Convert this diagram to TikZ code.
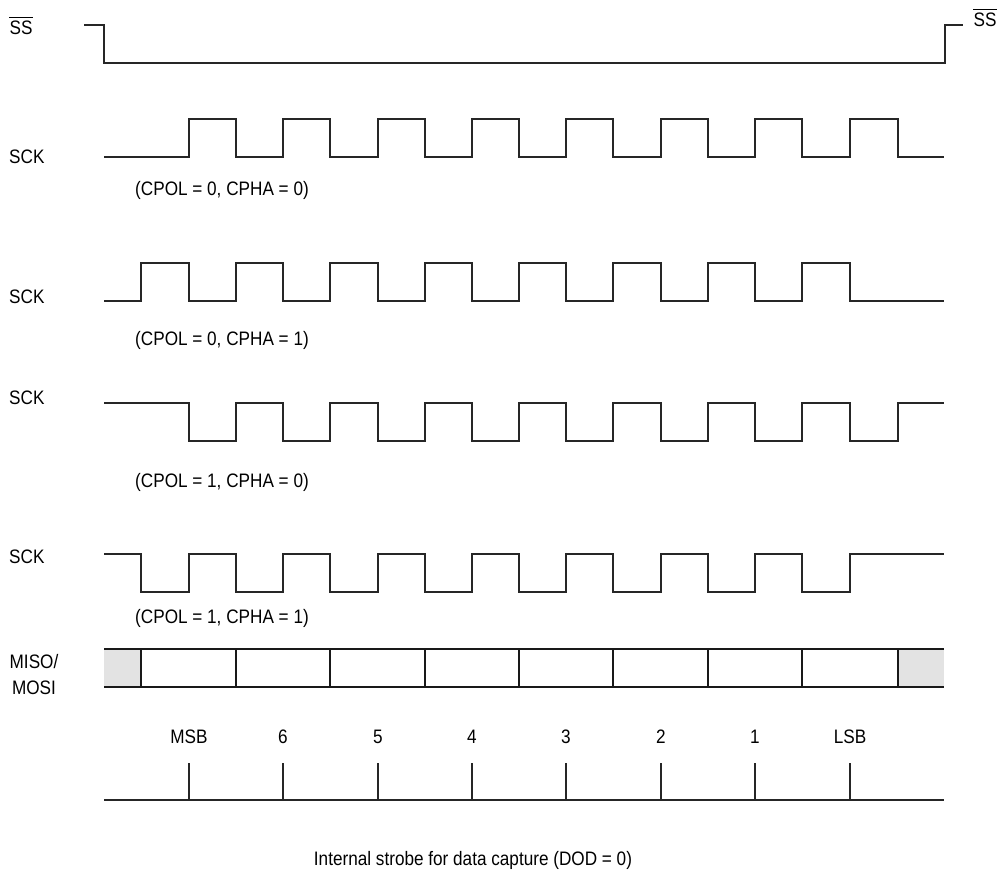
\documentclass[tikz,border=0pt]{standalone}
\usepackage{fontspec}
\setmainfont{Liberation Sans}[FakeStretch=0.88]
\begin{document}
\begin{tikzpicture}[x=1pt,y=-1pt,
  wave/.style={line width=1.1pt,black!85},
  lbl/.style={inner sep=0pt,font=\fontsize{19.5}{22}\selectfont},
  slot/.style={line width=1.1pt,black!90},
  shade/.style={fill=black!11,draw=none},
  bar/.style={line width=0.9pt,black}]
\useasboundingbox (0,0) rectangle (1001,871);
% SS
\node[lbl] (ssl) at (21,28) {SS};
\draw[bar] ([yshift=3pt]ssl.north west) -- ([yshift=3pt]ssl.north east);
\node[lbl] (ssr) at (985,20) {SS};
\draw[bar] ([yshift=3pt]ssr.north west) -- ([yshift=3pt]ssr.north east);
\draw[wave] (84,25) -- (104,25) -- (104,63) -- (945,63) -- (945,25) -- (963,25);
% SCK 1
\node[lbl,anchor=west] (sck1) at (9,157) {SCK};
\draw[wave] (104,157) foreach \r/\f in {189/236,283/330,378/425,472/519,566/613,661/708,755/802,850/898}
  { -- (\r,157) -- (\r,119) -- (\f,119) -- (\f,157) } -- (944,157);
\node[lbl] (c1) at (222,190) {(CPOL = 0, CPHA = 0)};
% SCK 2
\node[lbl,anchor=west] (sck2) at (9,297) {SCK};
\draw[wave] (104,301) foreach \r/\f in {141/189,236/283,330/378,425/472,519/566,613/661,708/755,802/850}
  { -- (\r,301) -- (\r,263) -- (\f,263) -- (\f,301) } -- (944,301);
\node[lbl] (c2) at (222,340) {(CPOL = 0, CPHA = 1)};
% SCK 3
\node[lbl,anchor=west] (sck3) at (9,398) {SCK};
\draw[wave] (104,403) foreach \r/\f in {189/236,283/330,378/425,472/519,566/613,661/708,755/802,850/898}
  { -- (\r,403) -- (\r,441) -- (\f,441) -- (\f,403) } -- (944,403);
\node[lbl] (c3) at (222,482) {(CPOL = 1, CPHA = 0)};
% SCK 4
\node[lbl,anchor=west] (sck4) at (9,557) {SCK};
\draw[wave] (104,554) foreach \r/\f in {141/189,236/283,330/378,425/472,519/566,613/661,708/755,802/850}
  { -- (\r,554) -- (\r,592) -- (\f,592) -- (\f,554) } -- (944,554);
\node[lbl] (c4) at (222,618) {(CPOL = 1, CPHA = 1)};
% MISO/MOSI
\node[lbl,align=center] (miso) at (34,675) {MISO/\\[4pt]MOSI};
\fill[shade] (104,649) rectangle (141,687);
\fill[shade] (898,649) rectangle (944,687);
\draw[slot] (104,649) -- (944,649);
\draw[slot] (104,687) -- (944,687);
\foreach \x in {141,236,330,425,519,613,708,802,898}
  \draw[slot] (\x,649) -- (\x,687);
% strobe
\foreach \x/\t [count=\i] in {189/MSB,283/6,378/5,472/4,566/3,661/2,755/1,850/LSB}{
  \node[lbl] (b\i) at (\x,737) {\t};
  \draw[wave] (\x,763) -- (\x,800);
}
\draw[wave] (104,800) -- (944,800);
\node[lbl] (cap) at (473,860) {Internal strobe for data capture (DOD = 0)};
\end{tikzpicture}
\end{document}
